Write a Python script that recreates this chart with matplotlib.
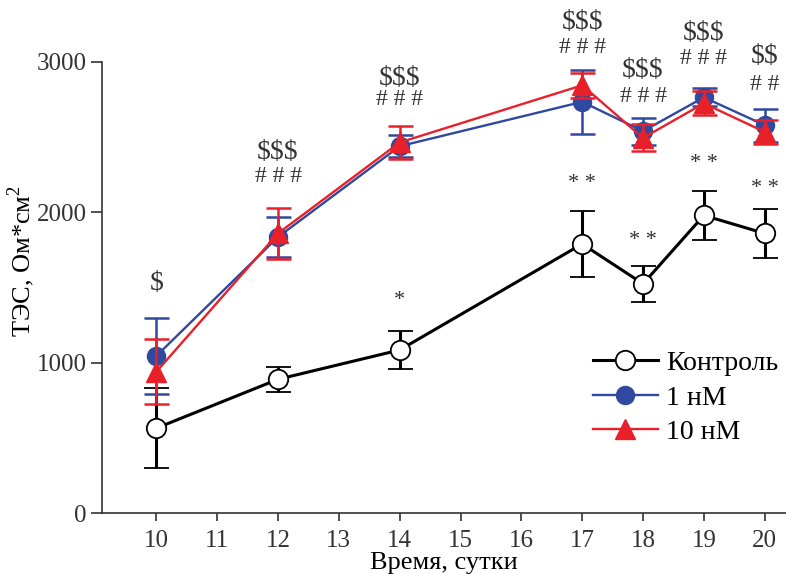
import matplotlib
matplotlib.use("Agg")
import matplotlib.pyplot as plt
from matplotlib.lines import Line2D

plt.rcParams['font.family'] = ['Liberation Serif', 'DejaVu Serif']
plt.rcParams['mathtext.fontset'] = 'custom'
plt.rcParams['mathtext.rm'] = 'Liberation Serif'

# Data
days = [10, 12, 14, 17, 18, 19, 20]

control = [565, 890, 1085, 1790, 1525, 1980, 1860]
control_err = [265, 85, 125, 220, 120, 165, 165]

nm1 = [1045, 1836, 2440, 2735, 2540, 2765, 2580]
nm1_err = [255, 135, 75, 215, 90, 60, 110]

nm10 = [940, 1860, 2465, 2845, 2495, 2725, 2535]
nm10_err = [215, 170, 110, 85, 90, 80, 80]

# significance marks above each day (y in data units)
dollar_marks = ["$", "$$$", "$$$", "$$$", "$$$", "$$$", "$$"]
dollar_y = [1530, 2400, 2890, 3265, 2945, 3190, 3035]
hash_marks = ["", "###", "###", "###", "###", "###", "##"]
hash_y = [None, 2236, 2748, 3094, 2768, 3020, 2848]
star_marks = ["", "", "*", "**", "**", "**", "**"]
star_y = [None, None, 1417, 2195, 1816, 2322, 2162]

blue = "#2f49a0"
red = "#e8202a"

fig = plt.figure(figsize=(7.86, 5.74), dpi=100)
ax = fig.add_axes([0.13, 0.106, 0.87, 0.786])

ax.errorbar(days, control, yerr=control_err, color="black", lw=2.2, capsize=9,
            capthick=2.2, elinewidth=2.2, marker="o", ms=14, mfc="white", mec="black",
            mew=1.3, zorder=3)
ax.errorbar(days, nm1, yerr=nm1_err, color=blue, lw=1.7, capsize=9,
            capthick=1.8, elinewidth=1.8, marker="o", ms=13, mfc=blue, mec=blue,
            zorder=4)
ax.errorbar(days, nm10, yerr=nm10_err, color=red, lw=1.7, capsize=9,
            capthick=1.8, elinewidth=1.8, marker="^", ms=14, mfc=red, mec=red,
            zorder=5)

mark_color = "#333333"
for d, t, y in zip(days, dollar_marks, dollar_y):
    ax.text(d, y, t, ha="center", va="center", fontsize=20, color=mark_color,
            clip_on=False, parse_math=False)
for d, t, y in zip(days, hash_marks, hash_y):
    if t:
        ax.text(d, y, " ".join(t), ha="center", va="center", fontsize=17,
                color=mark_color, clip_on=False, parse_math=False)
for d, t, y in zip(days, star_marks, star_y):
    if t:
        ax.text(d, y, " ".join(t), ha="center", va="center",
                fontsize=16, color=mark_color, clip_on=False, parse_math=False)

ax.set_xlim(9.11, 20.35)
ax.set_ylim(0, 3000)
ax.set_xticks(range(10, 21))
ax.set_yticks([0, 1000, 2000, 3000])
ax.tick_params(axis="both", direction="out", labelsize=18, width=1.2, colors="#333333")
ax.tick_params(axis="y", length=8, pad=3)
ax.tick_params(axis="x", length=6, pad=6)
for s in ["top", "right"]:
    ax.spines[s].set_visible(False)
for s in ["left", "bottom"]:
    ax.spines[s].set_linewidth(1.2)
    ax.spines[s].set_color("#333333")

ax.set_xlabel("Время, сутки", fontsize=19, labelpad=0)
ax.set_ylabel("ТЭС, Ом*см$^2$", fontsize=19)
ax.yaxis.set_label_coords(-0.095, 0.56)

handles = [
    Line2D([], [], color="black", lw=2.2, marker="o", ms=14, mfc="white", mec="black", mew=1.3),
    Line2D([], [], color=blue, lw=1.7, marker="o", ms=13, mfc=blue, mec=blue),
    Line2D([], [], color=red, lw=1.7, marker="^", ms=14, mfc=red, mec=red),
]
labels = ["Контроль", "1 нМ", "10 нМ"]
fig.legend(handles, labels, loc="center left", bbox_to_anchor=(0.754, 0.307),
           frameon=False, fontsize=20, handlelength=2.35, handletextpad=0.3,
           labelspacing=0.32, borderpad=0, borderaxespad=0)

fig.savefig("out.png", dpi=100)
